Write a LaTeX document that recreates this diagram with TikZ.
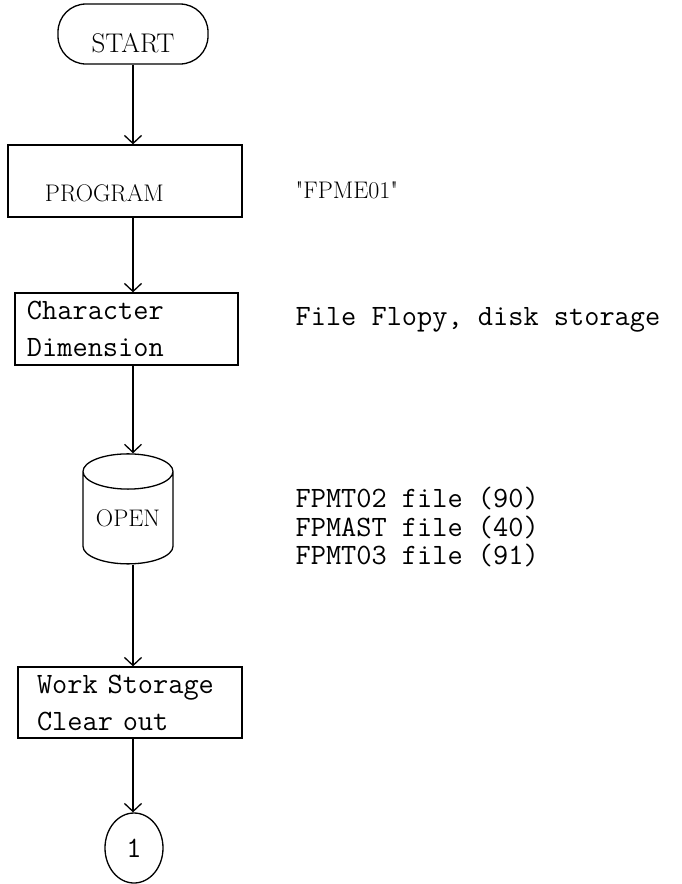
\documentclass[tikz,border=0pt]{standalone}
\usepackage{tikz}
\usetikzlibrary{shapes.geometric,arrows.meta}

\begin{document}
\begin{tikzpicture}[x=1pt,y=-1pt,line width=1.3pt,>={Straight Barb[length=8pt,width=17pt,line width=1.3pt]}]
 \tikzstyle{capfont} = [font=\fontsize{24}{28}\selectfont]
 \tikzstyle{typefont} = [font=\ttfamily\fontsize{29.5}{37}\selectfont]
 \tikzstyle{procbox} = [draw,rectangle,align=left,typefont,minimum height=72pt]
 \tikzstyle{note} = [anchor=west,align=left,typefont,inner sep=0pt]
 \useasboundingbox (0,0) rectangle (682,884);

% Flow
 \node[draw,font=\fontsize{27}{30}\selectfont,rounded corners=28pt,minimum width=150pt,minimum height=60pt,text height=36pt,text depth=0pt] (start) at (133,34) {START};
 \node[procbox,capfont,inner xsep=37pt,text width=160pt,text height=40pt,text depth=0pt] (program) at (125,181) {PROGRAM};
 \node[procbox,inner xsep=12pt,text width=199pt] (chardim) at (126.5,329) {Character\\Dimension};
 \node[draw,capfont,cylinder,shape border rotate=90,aspect=0.55,minimum width=90pt,minimum height=110pt,inner sep=0pt] (open) at (128,518) {OPEN};
 \node[procbox,inner xsep=19pt,text width=186pt,minimum height=71pt] (work) at (130,702.5) {Work Storage\\Clear out};
 \node[draw,ellipse,typefont,minimum width=58pt,minimum height=70pt,inner sep=0pt] (conn) at (134,848) {1};

 \draw[->] (start.south) -- (start.south |- program.north);
 \draw[->] (start.south |- program.south) -- (start.south |- chardim.north);
 \draw[->] (start.south |- chardim.south) -- (start.south |- open.north);
 \draw[->] (start.south |- open.south) -- (start.south |- work.north);
 \draw[->] (start.south |- work.south) -- (start.south |- conn.north);

% Remarks
 \node[anchor=west,capfont,inner sep=0pt] (pgmname) at (295,190) {\textquotedbl FPME01\textquotedbl};
 \node[note] (medium) at (295,320) {File Flopy, disk storage};
 \node[note,font=\ttfamily\fontsize{29.5}{28.5}\selectfont] (files) at (295,527) {FPMT02 file (90)\\FPMAST file (40)\\FPMT03 file (91)};

\end{tikzpicture}
\end{document}
